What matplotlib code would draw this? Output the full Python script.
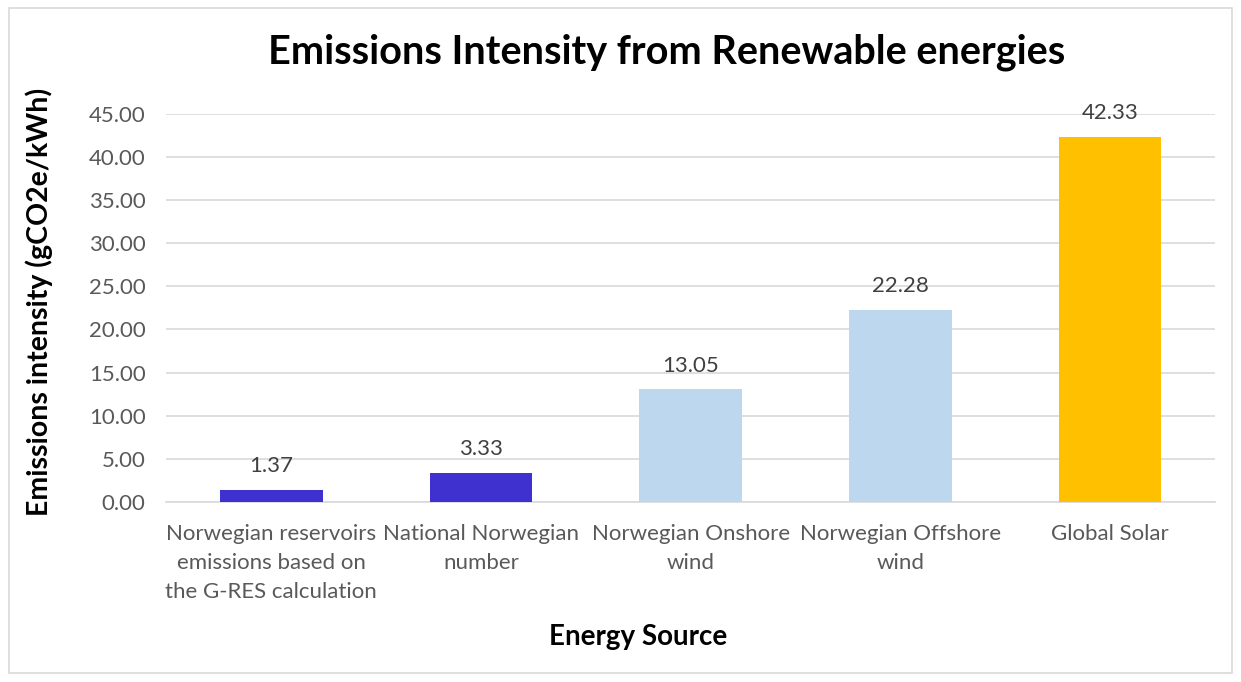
import matplotlib
matplotlib.use("Agg")
import matplotlib.pyplot as plt
from matplotlib.patches import Rectangle

plt.rcParams['font.family'] = ['Lato', 'DejaVu Sans']

categories = ["Norwegian reservoirs\nemissions based on\nthe G-RES calculation",
              "National Norwegian\nnumber",
              "Norwegian Onshore\nwind",
              "Norwegian Offshore\nwind",
              "Global Solar"]
values = [1.37, 3.33, 13.05, 22.28, 42.33]
colors = ["#3F30D0", "#3F30D0", "#BDD7EE", "#BDD7EE", "#FFC000"]
yticks = [0, 5, 10, 15, 20, 25, 30, 35, 40, 45]

fig = plt.figure(figsize=(12.41, 6.82), dpi=100)
ax = fig.add_axes([0.134, 0.264, 0.845, 0.569])

# chart border
fig.patches.append(Rectangle((0.007, 0.013), 0.986, 0.975, transform=fig.transFigure,
                             fill=False, edgecolor="#D9D9D9", linewidth=1.2))

x = range(len(categories))
bars = ax.bar(x, values, width=0.49, color=colors, zorder=3)
for b, v in zip(bars, values):
    ax.text(b.get_x() + b.get_width() / 2, v + 1.6, f"{v:.2f}", ha="center", va="bottom",
            fontsize=16, color="#404040")

ax.set_xlim(-0.5, len(categories) - 0.5)
ax.set_ylim(0, 45)
ax.set_yticks(yticks)
ax.set_yticklabels([f"{t:.2f}" for t in yticks])
ax.set_xticks(list(x))
ax.set_xticklabels(categories, linespacing=1.55)
ax.tick_params(axis="both", length=0, labelsize=16, labelcolor="#595959")
ax.tick_params(axis="y", pad=15)
ax.tick_params(axis="x", pad=16)
ax.grid(axis="y", color="#D9D9D9", linewidth=1.2, zorder=0)
for s in ["top", "right", "left"]:
    ax.spines[s].set_visible(False)
ax.spines["bottom"].set_color("#D9D9D9")
ax.spines["bottom"].set_linewidth(1.2)

fig.text(0.537, 0.924, "Emissions Intensity from Renewable energies", ha="center", va="center",
         fontsize=28.5, fontweight="bold", color="black")
ax.set_ylabel("Emissions intensity (gCO2e/kWh)", fontsize=20.5, fontweight="bold", color="black")
ax.yaxis.set_label_coords(-0.108, 0.515)
fig.text(0.514, 0.066, "Energy Source", ha="center", va="center",
         fontsize=20, fontweight="bold", color="black")

fig.savefig("out.png", dpi=100)
